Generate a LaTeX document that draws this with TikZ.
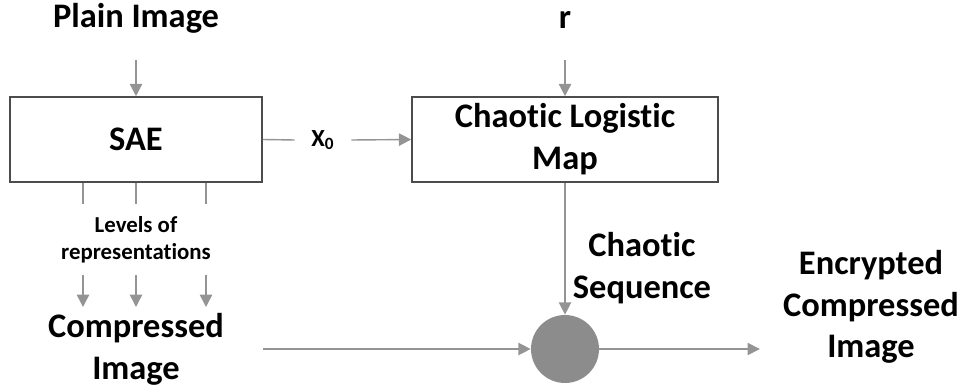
\documentclass[tikz,border=0pt]{standalone}
\usepackage{fontspec}
\setmainfont{Carlito}[Ligatures=NoCommon]
\usetikzlibrary{arrows.meta}

\begin{document}
\begin{tikzpicture}[x=0.02cm, y=-0.02cm,
	big/.style={font=\fontsize{19.6}{23.8}\selectfont\bfseries, align=center, inner sep=0pt},
	small/.style={font=\fontsize{13}{15.3}\selectfont\bfseries, align=center, inner sep=0pt},
	block/.style={draw=black!70, line width=0.9pt, minimum height=1.7cm},
	flow/.style={draw=black!42, line width=0.8pt, -{Triangle[length=7pt,width=7pt]}},
	link/.style={draw=black!42, line width=0.8pt}]
			%%%%% START %%%%%
			
			\useasboundingbox (0,0) rectangle (967,392);
			
			\node[big] (plain) at (136,18) {Plain Image};
			\node[big] (r) at (565,20) {r};
			
			\node[big, block, minimum width=5.04cm] (sae) at (136,139.5) {SAE};
			\node[big, block, minimum width=6.12cm] (clm) at (565,139.5) {Chaotic Logistic\\Map};
			\node[font=\fontsize{14}{16}\selectfont\bfseries, inner sep=0pt, minimum width=1.12cm] (x0) at (323,140) {X\textsubscript{0}};
			
			\node[small] (levels) at (136,240) {Levels of\\representations};
			\node[big] (comp) at (136,349) {Compressed\\Image};
			
			\node[circle, fill=black!45, minimum size=1.36cm, inner sep=0pt] (xor) at (565,349) {};
			\node[big] (seq) at (642,268) {Chaotic\\Sequence};
			\node[big, inner xsep=0.46cm] (enc) at (871,307) {Encrypted\\Compressed\\Image};
			
			\draw[flow] (plain |- 0,60) -- (sae.north);
			\draw[flow] (r |- 0,60) -- (clm.north);
			
			\draw[link] (sae.east) -- (x0.west);
			\draw[flow] (x0.east) -- (clm.west);
			
			\foreach \x in {83,136,206} {
				\draw[link] (sae.south -| \x,0) -- (\x,204);
				\draw[flow] (\x,275) -- (\x,307);
			}
			
			\draw[flow] (sae.east |- xor) -- (xor.west);
			\draw[flow] (clm.south) -- (xor.north);
			\draw[flow] (xor.east) -- (xor.east -| enc.west);
			
			%%%%% END %%%%%
\end{tikzpicture}
\end{document}
